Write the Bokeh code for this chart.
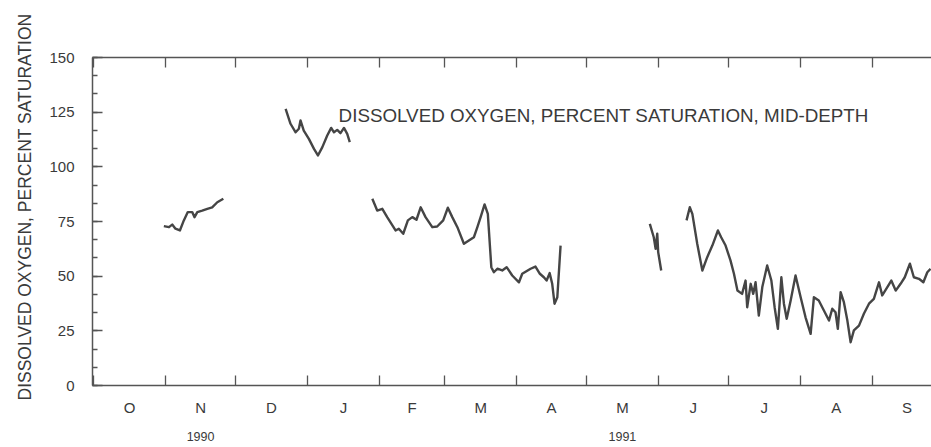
import math
from bokeh.plotting import figure
from bokeh.models import FixedTicker, LinearAxis, Range1d, Label, Title
from bokeh.embed import file_html
from bokeh.resources import INLINE

# x values: days since 1 October 1990 (water year 1991)
seg1_day = [30.2, 32.4, 33.8, 35.2, 37.1, 38.8, 40.5, 42.4, 43.4, 44.6, 46.7, 48.9, 51.0, 53.2, 55.8]
seg1_val = [72.9, 72.4, 73.6, 71.7, 70.9, 75.5, 79.3, 79.3, 77.0, 79.3, 80.0, 80.8, 81.5, 83.8, 85.4]

seg2_day = [82.6, 84.7, 86.9, 88.3, 89.0, 90.4, 92.6, 94.8, 96.5, 98.4, 100.5, 102.2, 103.4, 104.8,
            106.2, 107.7, 109.1, 110.2]
seg2_val = [126.5, 119.7, 115.8, 117.4, 121.2, 116.6, 112.8, 108.2, 105.2, 109.0, 114.3, 117.8, 115.8,
            116.9, 115.4, 117.8, 115.1, 111.3]

seg3_day = [119.9, 122.0, 124.2, 126.3, 129.9, 131.3, 133.2, 135.2, 137.1, 138.9, 140.7, 142.8, 145.7,
            147.8, 150.4, 152.4, 154.3, 156.5, 159.3, 163.6, 165.1, 166.5, 168.2, 169.6, 171.1, 172.2,
            173.7, 175.8, 177.7, 180.1, 183.0, 184.4, 188.0, 190.1, 192.0, 193.7, 194.9, 196.2, 197.3,
            198.3, 199.5, 200.9]
seg3_val = [85.4, 80.0, 80.8, 77.0, 70.9, 71.7, 69.4, 75.5, 77.0, 75.8, 81.5, 77.0, 72.4,
            72.7, 75.5, 81.3, 77.0, 72.4, 64.8, 67.8, 72.4, 77.0, 82.8, 78.5, 54.1, 51.8,
            53.4, 52.6, 54.1, 50.3, 47.2, 51.1, 53.4, 54.4, 51.1, 49.5, 48.0, 51.4, 46.5,
            37.4, 40.4, 64.0]

seg4_day = [239.3, 241.0, 241.8, 242.5, 242.9, 244.2]
seg4_val = [73.9, 67.8, 62.5, 69.4, 61.0, 52.6]

seg5_day = [255.1, 256.5, 257.6, 259.7, 261.9, 264.0, 266.2, 268.6, 270.0, 271.9, 274.0, 275.5, 277.0,
            279.0, 280.5, 281.2, 282.7, 283.8, 284.8, 286.2, 287.7, 289.8, 291.6, 293.0, 294.4, 295.9,
            297.0, 298.2, 299.9, 302.0, 304.2, 306.3, 308.5, 309.9, 312.0, 314.2, 316.4, 317.8, 319.2,
            320.2, 321.4, 322.8, 324.3, 325.7, 327.1, 329.3, 331.4, 333.6, 335.7, 337.9, 339.3, 341.5,
            343.2, 345.1, 347.2, 349.0, 351.2, 352.9, 355.1, 357.0, 358.7, 360.1]
seg5_val = [75.5, 81.5, 78.5, 64.8, 52.6, 58.7, 64.0, 70.9, 67.8, 64.0, 57.2, 51.1, 43.4,
            41.9, 48.0, 35.8, 46.5, 41.9, 47.2, 32.0, 45.0, 54.9, 48.0, 35.8, 25.9, 49.5,
            37.4, 30.5, 38.9, 50.3, 40.4, 31.2, 23.6, 40.4, 38.9, 34.3, 29.7, 35.1, 33.5,
            25.9, 42.7, 38.1, 29.7, 19.8, 25.2, 27.4, 32.8, 37.4, 39.6, 47.2, 41.2, 45.0,
            48.0, 43.4, 46.5, 49.5, 55.7, 49.5, 48.8, 47.2, 51.8, 53.4]

month_bounds = [0, 31, 61, 92, 123, 151, 182, 212, 243, 273, 304, 335, 365]
month_labels = ["O", "N", "D", "J", "F", "M", "A", "M", "J", "J", "A", "S"]
year_labels = ["1990", "1991"]
year_months = [1, 7]          # index of the month under which the year is written
y_ticks = [0, 25, 50, 75, 100, 125, 150]
y_minor = [k * 25 / 3 for k in range(19)]

y_title = "DISSOLVED OXYGEN, PERCENT SATURATION"
note_text = "DISSOLVED OXYGEN, PERCENT SATURATION, MID-DEPTH"
note_day, note_val = 105.4, 123.5

FONT = "Liberation Sans"
TXT = "#3a3a3a"
LINE = "#454545"
AX = "#555555"

segs = [(seg1_day, seg1_val), (seg2_day, seg2_val), (seg3_day, seg3_val),
        (seg4_day, seg4_val), (seg5_day, seg5_val)]
xs, ys = [], []
for d, v in segs:
    if xs:
        xs.append(float("nan")); ys.append(float("nan"))
    xs.extend(d); ys.extend(v)

mids = [(month_bounds[i] + month_bounds[i + 1]) / 2 for i in range(12)]

p = figure(width=931, height=447, output_backend="svg", toolbar_location=None,
           x_range=Range1d(-0.5, 360.5), y_range=Range1d(0, 150),
           min_border_left=92, min_border_right=0, min_border_top=57, min_border_bottom=62,
           x_axis_location=None, y_axis_location=None)
p.outline_line_color = None
p.grid.visible = False
p.background_fill_color = "white"

p.line(xs, ys, line_color=LINE, line_width=2.4, line_join="round")

# left axis
ya = LinearAxis(ticker=FixedTicker(ticks=y_ticks, minor_ticks=y_minor))
ya.major_tick_in = 10; ya.major_tick_out = 0
ya.minor_tick_in = 5; ya.minor_tick_out = 0
ya.axis_line_color = AX; ya.axis_line_width = 1.5
ya.major_tick_line_color = AX; ya.minor_tick_line_color = AX
ya.major_tick_line_width = 1.3; ya.minor_tick_line_width = 1.3
ya.major_label_text_font = FONT; ya.major_label_text_font_size = "15px"
ya.major_label_text_color = TXT; ya.major_label_standoff = 18
p.add_layout(ya, "left")

p.add_layout(Title(text=y_title, align="left", offset=-15, text_font=FONT, text_font_size="17.5px",
                   text_font_style="normal", text_color=TXT, standoff=23), "left")

# bottom month axis
xa = LinearAxis(ticker=FixedTicker(ticks=mids, minor_ticks=month_bounds))
xa.major_label_overrides = {m: lab for m, lab in zip(mids, month_labels)}
xa.major_tick_in = 0; xa.major_tick_out = 0
xa.minor_tick_in = 10; xa.minor_tick_out = 0
xa.axis_line_color = AX; xa.axis_line_width = 1.5
xa.minor_tick_line_color = AX; xa.minor_tick_line_width = 1.3
xa.major_label_text_font = FONT; xa.major_label_text_font_size = "15px"
xa.major_label_text_color = TXT; xa.major_label_standoff = 13
p.add_layout(xa, "below")

# year axis
yr_pos = [mids[i] for i in year_months]
ya2 = LinearAxis(ticker=FixedTicker(ticks=yr_pos))
ya2.major_label_overrides = {m: lab for m, lab in zip(yr_pos, year_labels)}
ya2.axis_line_color = None
ya2.major_tick_line_color = None; ya2.minor_tick_line_color = None
ya2.major_tick_in = 0; ya2.major_tick_out = 0
ya2.major_label_text_font = FONT; ya2.major_label_text_font_size = "12.5px"
ya2.major_label_text_color = TXT; ya2.major_label_standoff = 13
p.add_layout(ya2, "below")

# top axis (ticks only)
ta = LinearAxis(ticker=FixedTicker(ticks=[], minor_ticks=month_bounds))
ta.major_label_text_font_size = "0px"
ta.minor_tick_in = 10; ta.minor_tick_out = 0
ta.major_tick_in = 0; ta.major_tick_out = 0
ta.axis_line_color = AX; ta.axis_line_width = 1.5
ta.minor_tick_line_color = AX; ta.minor_tick_line_width = 1.3
p.add_layout(ta, "above")

p.add_layout(Label(x=note_day, y=note_val, text=note_text, text_font=FONT, text_font_size="18.8px",
                   text_color=TXT, text_baseline="middle", text_align="left"))

open("out.html", "w").write(file_html(p, INLINE))
